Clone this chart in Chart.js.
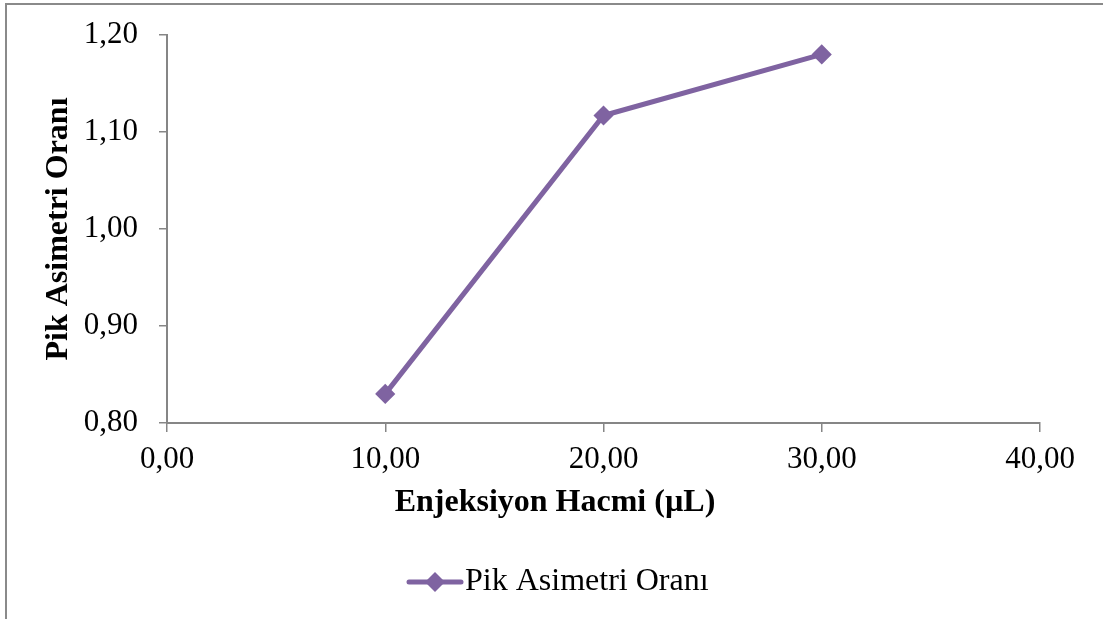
<!DOCTYPE html>
<html>
<head>
<meta charset="utf-8">
<script src="https://cdn.jsdelivr.net/npm/chart.js@4/dist/chart.umd.min.js"></script>
<style>
  html, body { margin: 0; padding: 0; background: #ffffff; }
  #wrap { position: relative; width: 1103px; height: 619px; }
  canvas { display: block; }
</style>
</head>
<body>
<div id="wrap"><canvas id="chart" width="1103" height="619"></canvas></div>
<script>
// Injection volume (µL) and the measured peak asymmetry ratio
const volumes = [10, 20, 30];
const asymmetry = [0.83, 1.117, 1.18];

// Axis tick values
const xTickValues = [0, 10, 20, 30, 40];
const yTickValues = [0.80, 0.90, 1.00, 1.10, 1.20];

const seriesLabel = 'Pik Asimetri Oranı';
const xTitle = 'Enjeksiyon Hacmi (µL)';
const yTitle = 'Pik Asimetri Oranı';

const purple = '#7F63A1';
const axisGrey = '#868686';
const serif = "'Liberation Serif', 'Times New Roman', serif";

const fmt = v => Number(v).toFixed(2).replace('.', ',');

// Outer chart frame (top and left edges)
const framePlugin = {
  id: 'frame',
  beforeDraw(chart) {
    const ctx = chart.ctx;
    ctx.save();
    ctx.fillStyle = '#ffffff';
    ctx.fillRect(0, 0, chart.width, chart.height);
    ctx.strokeStyle = '#8a8a8a';
    ctx.lineWidth = 2;
    ctx.beginPath();
    ctx.moveTo(6, chart.height);
    ctx.lineTo(6, 4);
    ctx.lineTo(chart.width, 4);
    ctx.stroke();
    ctx.restore();
  }
};

// X axis title centred on the whole chart, and the series legend below it
const captionPlugin = {
  id: 'captions',
  afterDraw(chart, args, opts) {
    const ctx = chart.ctx;
    const ds = chart.data.datasets[0];
    ctx.save();
    ctx.fillStyle = '#000000';
    ctx.textBaseline = 'middle';
    ctx.textAlign = 'center';
    ctx.font = 'bold 32px ' + serif;
    ctx.fillText(opts.xTitle, opts.titleX, opts.titleY);

    // legend swatch: line with diamond marker
    const y = opts.legendY;
    ctx.strokeStyle = ds.borderColor;
    ctx.lineWidth = ds.borderWidth;
    ctx.lineCap = 'round';
    ctx.beginPath();
    ctx.moveTo(opts.swatchX1, y);
    ctx.lineTo(opts.swatchX2, y);
    ctx.stroke();
    const cx = (opts.swatchX1 + opts.swatchX2) / 2;
    const r = ds.pointRadius + 1;
    ctx.fillStyle = ds.pointBackgroundColor;
    ctx.beginPath();
    ctx.moveTo(cx, y - r);
    ctx.lineTo(cx + r, y);
    ctx.lineTo(cx, y + r);
    ctx.lineTo(cx - r, y);
    ctx.closePath();
    ctx.fill();

    ctx.fillStyle = '#000000';
    ctx.textAlign = 'left';
    ctx.font = '32px ' + serif;
    ctx.fillText(ds.label, opts.swatchX2 + 4, y);
    ctx.restore();
  }
};

new Chart(document.getElementById('chart'), {
  type: 'scatter',
  data: {
    datasets: [{
      label: seriesLabel,
      data: volumes.map((v, i) => ({ x: v, y: asymmetry[i] })),
      showLine: true,
      borderColor: purple,
      backgroundColor: purple,
      borderWidth: 5,
      pointStyle: 'rectRot',
      pointRadius: 9,
      pointHoverRadius: 9,
      pointBackgroundColor: purple,
      pointBorderColor: purple,
      pointBorderWidth: 1.5,
      tension: 0
    }]
  },
  options: {
    responsive: false,
    animation: false,
    devicePixelRatio: 1,
    layout: { autoPadding: false, padding: { top: 35, right: 63, left: 0, bottom: 139 } },
    plugins: {
      legend: { display: false },
      tooltip: { enabled: false },
      captions: {
        xTitle: xTitle,
        titleX: 555,
        titleY: 503,
        legendY: 582,
        swatchX1: 409,
        swatchX2: 461
      }
    },
    scales: {
      x: {
        type: 'linear',
        min: 0,
        max: 40,
        afterFit: s => { s.height = 57; s.paddingLeft = 0; s.paddingRight = 0; },
        afterBuildTicks: s => { s.ticks = xTickValues.map(v => ({ value: v })); },
        ticks: {
          color: '#000000',
          font: { family: serif, size: 31 },
          padding: 9,
          maxRotation: 0,
          callback: v => fmt(v)
        },
        grid: {
          drawOnChartArea: false,
          drawTicks: true,
          tickLength: 9,
          color: axisGrey,
          lineWidth: 1.5
        },
        border: { display: true, color: axisGrey, width: 2 }
      },
      y: {
        type: 'linear',
        min: 0.8,
        max: 1.2,
        afterFit: s => { s.width = 167; s.paddingTop = 0; s.paddingBottom = 0; },
        afterBuildTicks: s => { s.ticks = yTickValues.map(v => ({ value: v })); },
        ticks: {
          color: '#000000',
          font: { family: serif, size: 31 },
          padding: 21,
          callback: v => fmt(v)
        },
        grid: {
          drawOnChartArea: false,
          drawTicks: true,
          tickLength: 8,
          color: axisGrey,
          lineWidth: 1.5
        },
        border: { display: true, color: axisGrey, width: 2 },
        title: {
          display: true,
          text: yTitle,
          color: '#000000',
          font: { family: serif, size: 32, weight: 'bold' },
          padding: { top: 40, bottom: 0 }
        }
      }
    }
  },
  plugins: [framePlugin, captionPlugin]
});
</script>
</body>
</html>
